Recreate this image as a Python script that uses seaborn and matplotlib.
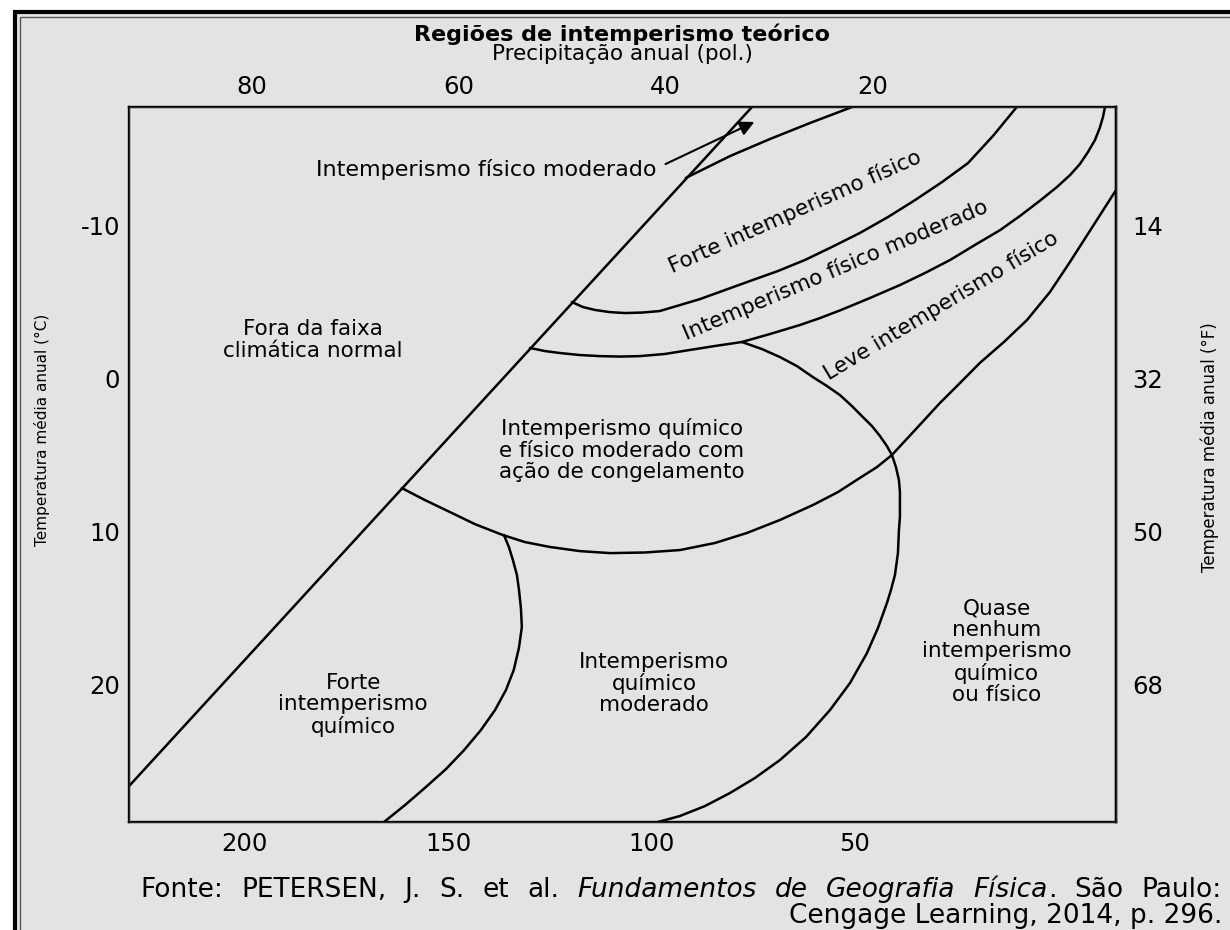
import seaborn as sns
import matplotlib.pyplot as plt
from matplotlib.patches import Rectangle

# Boundaries of the weathering regions: precipitation (cm) and mean annual temperature (°C)
diag_cm = [228.5, 75.3]
diag_c = [26.6, -17.7]

forte_fis_top_cm = [91.6, 80.7, 70.9, 61.1, 50.7]
forte_fis_top_c = [-13.07, -14.5, -15.61, -16.65, -17.7]

forte_fis_low_cm = [119.6, 116.88, 113.9, 110.24, 106.6, 102.37, 98.0, 93.03, 88.1, 81.96, 75.8, 68.93,
                    62.3, 55.65, 48.8, 41.88, 35.2, 28.6, 22.2, 16.06, 10.2]
forte_fis_low_c = [-4.98, -4.65, -4.46, -4.32, -4.26, -4.29, -4.39, -4.78, -5.17, -5.76, -6.35, -7.0,
                   -7.72, -8.57, -9.48, -10.52, -11.63, -12.8, -14.04, -15.81, -17.7]

mod_fis_low_cm = [129.9, 126.22, 122.5, 117.62, 112.7, 107.78, 102.9, 96.72, 90.6, 84.42, 77.8, 70.9,
                  63.5, 58.6, 53.4, 46.31, 38.9, 32.78, 26.6, 20.49, 14.3, 9.42, 4.3, 0.32, -2.9, -5.33,
                  -7.3, -9.02, -10.2, -10.99, -11.5]
mod_fis_low_c = [-1.98, -1.78, -1.65, -1.52, -1.45, -1.42, -1.45, -1.59, -1.85, -2.11, -2.37, -2.89,
                 -3.48, -3.93, -4.46, -5.24, -6.09, -6.87, -7.72, -8.7, -9.67, -10.59, -11.63, -12.48,
                 -13.26, -13.98, -14.76, -15.54, -16.33, -17.04, -17.7]

gelo_low_cm = [161.4, 155.73, 149.6, 143.44, 136.6, 131.14, 125.0, 117.62, 110.2, 101.63, 93.0, 84.42,
               76.6, 68.44, 60.3, 54.18, 48.8, 44.59, 40.9, 35.0, 29.1, 24.18, 19.3, 13.36, 7.7, 2.04,
               -2.9, -8.53, -14.2]
gelo_low_c = [7.16, 7.94, 8.72, 9.51, 10.22, 10.68, 11.0, 11.27, 11.4, 11.36, 11.2, 10.74, 10.09, 9.24,
              8.26, 7.42, 6.5, 5.79, 5.0, 3.31, 1.61, 0.31, -1.0, -2.37, -3.8, -5.63, -7.6, -9.93, -12.28]

seco_cm = [77.78, 72.86, 68.44, 64.26, 60.32, 56.88, 53.68, 50.73, 48.03, 45.82, 43.85, 42.13, 40.9,
           39.91, 39.18, 38.93, 38.93, 38.93, 39.18, 39.42, 40.16, 41.14, 42.13, 44.34, 47.04, 51.22,
           56.14, 62.04, 68.44, 74.59, 80.73, 86.88, 93.03, 98.44]
seco_c = [-2.37, -1.91, -1.39, -0.8, -0.08, 0.5, 1.09, 1.81, 2.53, 3.11, 3.76, 4.42, 5.0, 5.79, 6.63,
          7.42, 8.13, 9.05, 9.9, 11.4, 12.83, 13.81, 14.66, 16.29, 17.92, 19.88, 21.64, 23.4, 24.9, 26.07,
          27.05, 27.9, 28.55, 28.94]

quim_cm = [136.3, 135.08, 134.1, 133.11, 132.6, 132.13, 131.9, 132.62, 133.9, 135.81, 138.5, 141.96,
           146.1, 150.57, 155.5, 160.65, 165.8]
quim_c = [10.22, 11.01, 11.85, 12.83, 13.81, 14.98, 16.22, 17.59, 19.03, 20.33, 21.64, 22.94, 24.25,
          25.49, 26.66, 27.84, 28.94]

arrow_tail = (97.2, -13.9)
arrow_head = (74.1, -16.8)

cm_ticks = [200, 150, 100, 50]
in_ticks = [80, 60, 40, 20]
c_ticks = [-10, 0, 10, 20]
f_ticks = [14, 32, 50, 68]

bg = '#e3e3e3'
sns.set_style("white")
plt.rcParams['font.family'] = ['DejaVu Sans']
plt.rcParams['text.color'] = 'black'
plt.rcParams['xtick.color'] = 'black'
plt.rcParams['ytick.color'] = 'black'
plt.rcParams['axes.unicode_minus'] = False

fig = plt.figure(figsize=(12.3, 9.3), dpi=100)
fig.patch.set_facecolor('white')
fig.add_artist(Rectangle((15 / 1230, -0.1), 1.2, 1.1 - 12 / 930, transform=fig.transFigure,
                         facecolor=bg, edgecolor='black', lw=3, zorder=-2))
fig.add_artist(Rectangle((20 / 1230, -0.1), 1.2, 1.1 - 17 / 930, transform=fig.transFigure,
                         facecolor='none', edgecolor='#555555', lw=1, zorder=-1))

ax = fig.add_axes([129 / 1230, 1 - 822 / 930, 987 / 1230, 715 / 930])
ax.set_facecolor(bg)

curves = [(diag_cm, diag_c), (forte_fis_top_cm, forte_fis_top_c), (forte_fis_low_cm, forte_fis_low_c),
          (mod_fis_low_cm, mod_fis_low_c), (gelo_low_cm, gelo_low_c), (seco_cm, seco_c), (quim_cm, quim_c)]
for xs, ys in curves:
    sns.lineplot(x=xs, y=ys, ax=ax, color='black', lw=1.8, sort=False, estimator=None)

ax.annotate('', xy=arrow_head, xytext=arrow_tail,
            arrowprops=dict(arrowstyle='-|>', color='black', lw=1.5, mutation_scale=22))

ax.set_xlim(228.5, -14.2)
ax.set_ylim(28.94, -17.7)
ax.set_xticks(cm_ticks)
ax.set_yticks(c_ticks)
ax.set_xlabel('')
ax.set_ylabel('')
ax.tick_params(length=0, labelsize=17.5)
ax.tick_params(axis='x', pad=7)
ax.tick_params(axis='y', pad=6.5)
for s in ax.spines.values():
    s.set_color('black')
    s.set_linewidth(1.7)

top = ax.twiny()
top.set_xlim(91.86, -3.5)
top.set_xticks(in_ticks)
top.tick_params(length=0, labelsize=17.5, pad=6)

right = ax.secondary_yaxis('right', functions=(lambda c: c * 9 / 5 + 32, lambda f: (f - 32) * 5 / 9))
right.set_yticks(f_ticks)
right.tick_params(length=0, labelsize=17.5, pad=11.5)
right.spines['right'].set_linewidth(1.7)

fs = 15.5
ls = 1.08
ax.text(98.7, -13.2, 'Intemperismo físico moderado', ha='right', va='baseline', fontsize=16)
ax.text(183.3, -2.5, 'Fora da faixa\nclimática normal', ha='center', va='center', fontsize=fs, linespacing=ls)
ax.text(107.3, 4.68, 'Intemperismo químico\ne físico moderado com\nação de congelamento',
        ha='center', va='center', fontsize=fs, linespacing=ls)
ax.text(173.4, 21.3, 'Forte\nintemperismo\nquímico', ha='center', va='center', fontsize=fs, linespacing=ls)
ax.text(99.4, 19.9, 'Intemperismo\nquímico\nmoderado', ha='center', va='center', fontsize=fs, linespacing=ls)
ax.text(15.1, 17.85, 'Quase\nnenhum\nintemperismo\nquímico\nou físico', ha='center', va='center',
        fontsize=fs, linespacing=ls)
ax.text(64.8, -10.85, 'Forte intemperismo físico', ha='center', va='center', rotation=24,
        rotation_mode='anchor', fontsize=fs)
ax.text(54.7, -7.06, 'Intemperismo físico moderado', ha='center', va='center', rotation=23,
        rotation_mode='anchor', fontsize=fs)
ax.text(28.9, -4.72, 'Leve intemperismo físico', ha='center', va='center', rotation=31,
        rotation_mode='anchor', fontsize=fs)

fig.text(622 / 1230, 1 - 41 / 930, 'Regiões de intemperismo teórico', ha='center', va='baseline',
         fontsize=16, fontweight='bold')
fig.text(622 / 1230, 1 - 60 / 930, 'Precipitação anual (pol.)', ha='center', va='baseline', fontsize=15.5)
fig.text(42 / 1230, 1 - 430 / 930, 'Temperatura média anual (°C)', rotation=90, ha='center', va='center',
         fontsize=11)
fig.text(1210 / 1230, 1 - 447 / 930, 'Temperatura média anual (°F)', rotation=90, ha='center', va='center',
         fontsize=12)

# source note: first line justified between x=140 and x=1222 px
ffs = 19
words = [[('Fonte:', 'normal')], [('PETERSEN,', 'normal')], [('J.', 'normal')], [('S.', 'normal')],
         [('et', 'normal')], [('al.', 'normal')], [('Fundamentos', 'italic')], [('de', 'italic')],
         [('Geografia', 'italic')], [('Física', 'italic'), ('.', 'normal')], [('São', 'normal')],
         [('Paulo:', 'normal')]]
renderer = fig.canvas.get_renderer()
placed = []
total = 0
for word in words:
    parts = []
    for txt, st in word:
        t = fig.text(0, 1 - 897 / 930, txt, ha='left', va='baseline', fontsize=ffs, style=st)
        w = t.get_window_extent(renderer).width
        parts.append((t, w))
        total += w
    placed.append(parts)
gap = (1222 - 140 - total) / (len(words) - 1)
xpos = 140
for parts in placed:
    for t, w in parts:
        t.set_x(xpos / 1230)
        xpos += w
    xpos += gap
fig.text(1222 / 1230, 1 - 923 / 930, 'Cengage Learning, 2014, p. 296.', ha='right', va='baseline',
         fontsize=ffs)

plt.savefig('out.png', dpi=100, facecolor=fig.get_facecolor())
